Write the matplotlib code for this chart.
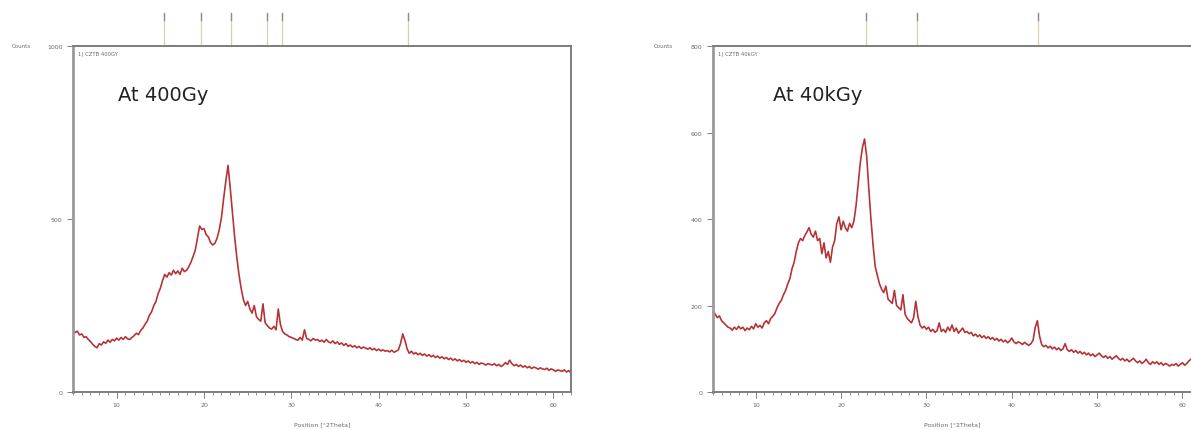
"""Two XRD scans (400Gy and 40kGy) side by side, styled like the instrument printout."""

import numpy as np
import matplotlib
matplotlib.use("Agg")
import matplotlib.pyplot as plt
from matplotlib.ticker import MultipleLocator

# counts every 0.25 deg 2theta
counts_400gy = [
    180, 172, 176, 165, 168, 158, 160, 152,
    146, 138, 132, 128, 140, 136, 145, 141,
    150, 144, 152, 148, 156, 150, 158, 152,
    160, 154, 152, 158, 163, 170, 166, 178,
    185, 196, 205, 222, 232, 250, 262, 285,
    300, 322, 340, 332, 345, 338, 352, 342,
    350, 340, 358, 348, 352, 362, 375, 392,
    410, 445, 480, 470, 472, 455, 448, 432,
    425, 430, 445, 470, 505, 560, 610, 655,
    590, 520, 450, 390, 340, 300, 268, 250,
    262, 240, 228, 250, 218, 210, 205, 255,
    200, 192, 185, 182, 190, 180, 240, 195,
    175, 168, 165, 160, 158, 155, 152, 150,
    158, 150, 180, 155, 152, 148, 155, 150,
    152, 146, 150, 144, 152, 145, 142, 148,
    140, 145, 138, 142, 135, 140, 132, 136,
    130, 134, 128, 132, 126, 130, 127, 124,
    128, 122, 126, 120, 124, 119, 122, 118,
    120, 116, 121, 115, 118, 122, 140, 168,
    150, 125, 112, 118, 110, 114, 108, 112,
    106, 110, 104, 108, 102, 106, 100, 104,
    98, 102, 96, 100, 94, 98, 92, 96,
    90, 94, 88, 92, 86, 90, 84, 88,
    82, 86, 80, 84, 82, 78, 82, 80,
    78, 82, 76, 80, 74, 78, 85, 80,
    92, 82, 76, 80, 74, 78, 72, 76,
    70, 74, 68, 72, 70, 66, 70, 67,
    65, 69, 63, 67, 64, 60, 64, 62,
    60, 64, 58, 62, 56,
]
counts_40kgy = [
    188, 180, 172, 176, 165, 160, 155, 150,
    148, 143, 150, 145, 152, 146, 150, 142,
    148, 144, 152, 146, 158, 150, 154, 148,
    160, 165, 158, 170, 175, 182, 195, 205,
    212, 225, 235, 250, 262, 285, 300, 325,
    345, 355, 350, 362, 370, 380, 365, 358,
    372, 350, 355, 320, 345, 310, 325, 300,
    335, 350, 390, 405, 375, 395, 380, 372,
    390, 380, 395, 430, 480, 530, 565, 585,
    545, 470, 400, 340, 290, 270, 250, 238,
    230, 245, 215, 210, 205, 235, 200, 195,
    190, 225, 180, 170, 165, 160, 172, 210,
    175, 155, 148, 152, 145, 150, 140, 145,
    138, 142, 160, 140, 145, 138, 150, 142,
    155, 140, 148, 136, 142, 148, 138, 140,
    135, 138, 130, 134, 128, 132, 126, 130,
    124, 128, 122, 126, 120, 124, 118, 122,
    116, 120, 114, 118, 125, 116, 112, 116,
    114, 110, 115, 111, 108, 112, 120, 150,
    165, 130, 110, 105, 108, 102, 106, 100,
    104, 98, 102, 96, 100, 112, 98, 94,
    98, 92, 96, 90, 94, 88, 92, 86,
    90, 84, 88, 82, 86, 90, 84, 80,
    84, 78, 82, 76, 80, 84, 78, 74,
    78, 72, 76, 70, 74, 78, 72, 68,
    72, 66, 70, 76, 68, 64, 70, 66,
    70, 64, 68, 62, 66, 64, 60, 64,
    62, 66, 60, 64, 68, 62, 66, 72,
    76,
]
range_400gy = (5, 62)
range_40kgy = (5, 61)

# reference peak markers above the frame
refs_400gy = [15.4, 19.7, 23.1, 27.2, 28.9, 43.4]
refs_40kgy = [22.9, 28.9, 43.1]

yticks_400gy = [0, 500, 1000]
yticks_40kgy = [0, 200, 400, 600, 800]
xticks = [10, 20, 30, 40, 50, 60]

GRAY = "#6a6a6a"
TRACE = "#c8383c"


def draw_panel(ax, counts, xr, refs, yticks, title, title_x, tag, hide_right=False):
    x = np.linspace(xr[0], xr[1], len(counts))
    ax.plot(x, counts, color=TRACE, linewidth=1.2)
    ax.plot(x, counts, color="#6e3434", linewidth=0.3, alpha=0.7)
    ax.set_xlim(xr)
    ax.set_ylim(yticks[0], yticks[-1])
    ax.set_yticks(yticks)
    ax.set_yticklabels([str(t) for t in yticks])
    ax.set_xticks(xticks)
    ax.xaxis.set_minor_locator(MultipleLocator(1))
    ax.tick_params(axis="both", which="major", labelsize=4.5, colors=GRAY,
                   length=4, width=0.6, direction="out")
    ax.tick_params(axis="x", which="minor", length=2.5, width=0.5, colors=GRAY)
    for side, sp in ax.spines.items():
        sp.set_color("#7d7d7d")
        sp.set_linewidth(1.4)
    ax.spines["left"].set_linewidth(2.0)
    ax.spines["left"].set_color("#9a9a9a")
    if hide_right:
        ax.spines["right"].set_visible(False)
    ax.set_xlabel("Position [°2Theta]", fontsize=4.5, color=GRAY, labelpad=10)

    # little reference markers sticking out above the frame
    trans = ax.get_xaxis_transform()
    for r in refs:
        ax.plot([r, r], [1.0, 1.09], transform=trans, color="#d8d2a8",
                linewidth=0.9, clip_on=False)
        ax.plot([r, r], [1.075, 1.095], transform=trans, color="#8c8c8c",
                linewidth=1.0, clip_on=False)

    ax.text(-0.085, 1.0, "Counts", transform=ax.transAxes, fontsize=4,
            color=GRAY, va="center", ha="right")
    ax.text(0.01, 0.985, tag, transform=ax.transAxes, fontsize=3.8,
            color=GRAY, va="top", ha="left")
    ax.text(title_x, 0.86, title, transform=ax.transAxes, fontsize=14,
            color="#222222", va="center", ha="left", family="DejaVu Sans")


fig = plt.figure(figsize=(11.91, 4.31), dpi=100)
ax1 = fig.add_axes([0.0613, 0.088, 0.418, 0.803])
ax2 = fig.add_axes([0.5987, 0.088, 0.4013, 0.803])

draw_panel(ax1, counts_400gy, range_400gy, refs_400gy, yticks_400gy,
           "At 400Gy", 0.09, "1) CZTB 400GY")
draw_panel(ax2, counts_40kgy, range_40kgy, refs_40kgy, yticks_40kgy,
           "At 40kGy", 0.125, "1) CZTB 40kGY", hide_right=True)

fig.savefig("out.png", dpi=100, facecolor="white")
plt.close(fig)
